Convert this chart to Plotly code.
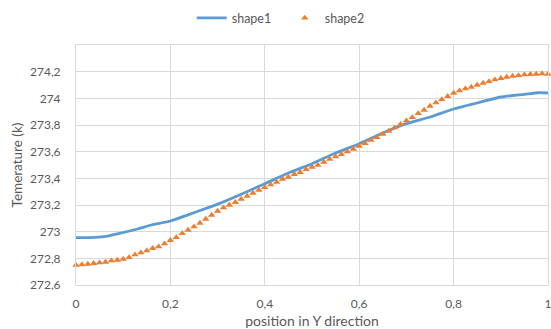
import plotly.graph_objects as go

# shape1 (line) readings
x_shape1 = [0, 0.03, 0.06, 0.09, 0.13, 0.16, 0.2, 0.24, 0.28, 0.31, 0.35, 0.4, 0.45,
            0.5, 0.55, 0.6, 0.65, 0.7, 0.75, 0.8, 0.85, 0.9, 0.95, 0.98, 1.0]
y_shape1 = [272.955, 272.955, 272.962, 272.985, 273.02, 273.05, 273.08, 273.13, 273.18,
            273.22, 273.28, 273.36, 273.44, 273.51, 273.59, 273.66, 273.74, 273.81,
            273.86, 273.92, 273.965, 274.01, 274.03, 274.042, 274.04]

# shape2 (markers), 81 points, step 0.0125
x_shape2 = [round(i * 0.0125, 4) for i in range(81)]
y_shape2 = [272.75, 272.752, 272.757, 272.763, 272.767, 272.772, 272.782, 272.787,
            272.795, 272.807, 272.827, 272.842, 272.857, 272.875, 272.887, 272.91,
            272.935, 272.957, 272.987, 273.012, 273.037, 273.065, 273.095, 273.125,
            273.155, 273.18, 273.2, 273.22, 273.245, 273.267, 273.29, 273.312,
            273.332, 273.352, 273.372, 273.395, 273.41, 273.43, 273.445, 273.467,
            273.485, 273.50, 273.522, 273.545, 273.562, 273.58, 273.60, 273.62,
            273.642, 273.662, 273.687, 273.707, 273.732, 273.755, 273.78, 273.805,
            273.832, 273.857, 273.887, 273.912, 273.942, 273.967, 273.992, 274.015,
            274.04, 274.057, 274.072, 274.085, 274.10, 274.115, 274.127, 274.14,
            274.15, 274.16, 274.167, 274.172, 274.177, 274.18, 274.182, 274.185,
            274.182]

x_tickvals = [0, 0.2, 0.4, 0.6, 0.8, 1]
x_ticktext = ["0", "0,2", "0,4", "0,6", "0,8", "1"]
y_tickvals = [272.6, 272.8, 273.0, 273.2, 273.4, 273.6, 273.8, 274.0, 274.2]
y_ticktext = ["272,6", "272,8", "273", "273,2", "273,4", "273,6", "273,8", "274", "274,2"]

GRID = "#d9d9d9"
TXT = "#595959"
FONT = "Lato"

fig = go.Figure()
fig.add_trace(go.Scatter(x=x_shape1, y=y_shape1, mode="lines", name="shape1",
                         line=dict(color="#5B9BD5", width=2.8, shape="spline", smoothing=0.6),
                         cliponaxis=False))
fig.add_trace(go.Scatter(x=x_shape2, y=y_shape2, mode="markers", name="shape2",
                         marker=dict(symbol="triangle-up", color="#ED7D31", size=6.5),
                         cliponaxis=False))

fig.update_layout(
    width=551, height=329,
    margin=dict(l=76, r=3, t=45, b=44, autoexpand=False),
    paper_bgcolor="white", plot_bgcolor="white",
    font=dict(family=FONT, size=12, color=TXT),
    legend=dict(orientation="h", xref="container", x=0.348, xanchor="left",
                yref="container", y=0.99, yanchor="top",
                font=dict(family=FONT, size=12.5, color=TXT), itemwidth=30,
                entrywidth=48),
    showlegend=True,
)
fig.update_xaxes(range=[0, 1], tickvals=x_tickvals, ticktext=x_ticktext,
                 showgrid=True, gridcolor=GRID, gridwidth=1,
                 showline=True, linecolor=GRID, linewidth=1, mirror=True,
                 zeroline=False, ticks="", ticklabelstandoff=8,
                 ticklabeloverflow="allow",
                 tickfont=dict(family=FONT, size=12, color=TXT),
                 title=dict(text="position in Y direction", standoff=5,
                            font=dict(family=FONT, size=14, color=TXT)))
fig.update_yaxes(range=[272.6, 274.4], tickvals=y_tickvals, ticktext=y_ticktext,
                 showgrid=True, gridcolor=GRID, gridwidth=1,
                 showline=True, linecolor=GRID, linewidth=1, mirror=True,
                 zeroline=False, ticks="", ticklabelstandoff=12,
                 tickfont=dict(family=FONT, size=12, color=TXT),
                 title=dict(text="Temerature (k)", standoff=4,
                            font=dict(family=FONT, size=13.5, color=TXT)))

fig.write_html("out.html", config={"displayModeBar": False},
               post_script="document.body.style.margin='0';document.body.style.overflow='hidden';")
